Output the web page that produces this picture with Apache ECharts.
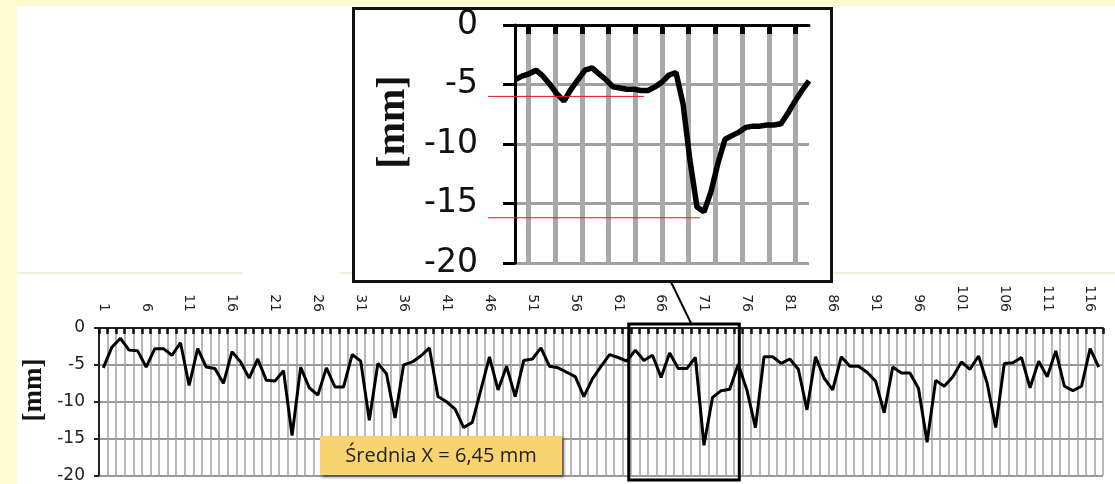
<!DOCTYPE html>
<html>
<head>
<meta charset="utf-8">
<script src="https://cdn.jsdelivr.net/npm/echarts@6/dist/echarts.min.js"></script>
<style>
  html, body { margin: 0; padding: 0; background: #fefbd1; }
  #page { position: relative; width: 1115px; height: 484px; overflow: hidden; }
  #white { position: absolute; left: 17px; top: 6px; width: 1098px; height: 478px; background: #ffffff; }
  .faint { position: absolute; top: 272px; height: 2px; background: #f1efdc; }
  #insetBox { position: absolute; left: 352px; top: 7px; width: 481px; height: 276px; box-sizing: border-box; border: 3px solid #111; background: #ffffff; }
  #c { position: absolute; left: 0; top: 0; width: 1115px; height: 484px; }
</style>
</head>
<body>
<div id="page">
  <div id="white"></div>
  <div class="faint" style="left:17px;width:226px"></div>
  <div class="faint" style="left:340px;width:775px"></div>
  <div id="insetBox"></div>
  <div id="c"></div>
</div>
<script>
// ---- data ----
const categories = Array.from({ length: 117 }, (_, i) => String(i + 1));
const depth = [
  -5.4, -2.6, -1.4, -3.0, -3.1, -5.3, -2.8, -2.8, -3.7, -2.0,
  -7.8, -2.8, -5.3, -5.5, -7.5, -3.2, -4.6, -6.8, -4.2, -7.1,
  -7.2, -5.8, -14.6, -5.3, -8.1, -9.1, -5.4, -8.0, -8.0, -3.6,
  -4.5, -12.5, -4.8, -6.2, -12.2, -5.0, -4.6, -3.8, -2.7, -9.3,
  -10.0, -11.0, -13.5, -12.8, -8.4, -3.9, -8.4, -5.2, -9.3, -4.4,
  -4.2, -2.7, -5.2, -5.4, -6.0, -6.6, -9.3, -6.9, -5.2, -3.6,
  -4.0, -4.5, -3.0, -4.4, -3.7, -6.7, -3.4, -5.5, -5.5, -4.0,
  -15.9, -9.4, -8.5, -8.3, -4.9, -8.4, -13.5, -3.9, -3.9, -4.8,
  -4.2, -5.6, -11.1, -3.9, -6.8, -8.4, -3.9, -5.2, -5.2, -6.0,
  -7.2, -11.5, -5.3, -6.1, -6.1, -8.2, -15.5, -7.1, -7.9, -6.6,
  -4.6, -5.6, -3.8, -7.5, -13.5, -4.8, -4.7, -4.0, -8.1, -4.5,
  -6.6, -3.1, -7.9, -8.5, -7.9, -2.8, -5.3
];
const yMin = -20, yMax = 0, yStep = 5;

// inset (zoomed detail) – its own picture, read separately
const insetSlots = ['', '', '', '', '', '', '', '', '', '', ''];
const insetSamples = Array.from({ length: 43 }, (_, i) => String(i));
const insetDepth = [
  -4.6, -4.3, -4.1, -3.8, -4.3, -5.0, -5.8, -6.4, -5.4, -4.6,
  -3.8, -3.6, -4.1, -4.6, -5.2, -5.3, -5.4, -5.4, -5.5, -5.5,
  -5.2, -4.8, -4.2, -4.0, -6.6, -11.4, -15.3, -15.7, -14.0, -11.6,
  -9.6, -9.3, -9.0, -8.6, -8.5, -8.5, -8.4, -8.4, -8.3, -7.4,
  -6.4, -5.5, -4.7
];
const insetRefLevels = [-6.0, -16.2];
const insetRefEnds = ['18', '26'];
const zoomWindow = ['62', '75'];
const axisUnit = '[mm]';
const meanLabel = 'Średnia X = 6,45 mm';

// ---- chart ----
const chart = echarts.init(document.getElementById('c'), null, { renderer: 'canvas' });
chart.setOption({
  backgroundColor: 'transparent',
  animation: false,
  grid: [
    { left: 99, top: 328, width: 1004, height: 148.7 },
    { left: 515, top: 25, width: 294, height: 238 }
  ],
  xAxis: [
    {
      gridIndex: 0, type: 'category', data: categories, position: 'top', boundaryGap: true,
      axisLine: { lineStyle: { color: '#222', width: 2 } },
      axisTick: { show: true, inside: true, interval: 0, length: 6, lineStyle: { color: '#111', width: 2.5 } },
      axisLabel: { interval: 4, rotate: -90, fontSize: 14, fontFamily: 'DejaVu Sans', color: '#222', margin: 16 },
      splitLine: { show: true, interval: 0, lineStyle: { color: '#a0a0a0', width: 1.5 } }
    },
    {
      gridIndex: 1, type: 'category', data: insetSlots, position: 'top', boundaryGap: true,
      axisLine: { lineStyle: { color: '#000', width: 3 } },
      axisTick: { show: true, inside: true, alignWithLabel: true, length: 9, lineStyle: { color: '#000', width: 5 } },
      axisLabel: { show: false },
      splitLine: { show: true, alignWithLabel: true, lineStyle: { color: '#a8a8a8', width: 5 } }
    },
    { gridIndex: 1, type: 'category', data: insetSamples, boundaryGap: false, show: false }
  ],
  yAxis: [
    {
      gridIndex: 0, type: 'value', min: yMin, max: yMax, interval: yStep,
      axisLine: { show: true, lineStyle: { color: '#222', width: 2 } },
      axisTick: { show: true, length: 5, lineStyle: { color: '#222', width: 2 } },
      axisLabel: { fontSize: 17, fontFamily: 'DejaVu Sans', color: '#222', margin: 14 },
      splitLine: { show: true, lineStyle: { color: '#9a9a9a', width: 2 } }
    },
    {
      gridIndex: 1, type: 'value', min: yMin, max: yMax, interval: yStep,
      axisLine: { show: true, lineStyle: { color: '#000', width: 3 } },
      axisTick: { show: true, length: 12, lineStyle: { color: '#000', width: 3 } },
      axisLabel: { fontSize: 33, fontFamily: 'DejaVu Sans', color: '#111', margin: 37 },
      splitLine: { show: true, lineStyle: { color: '#a0a0a0', width: 3 } }
    }
  ],
  series: [
    {
      type: 'line', xAxisIndex: 0, yAxisIndex: 0, data: depth, symbol: 'none',
      lineStyle: { color: '#000', width: 3 }, z: 5
    },
    {
      type: 'line', xAxisIndex: 2, yAxisIndex: 1, data: insetDepth, symbol: 'none',
      lineStyle: { color: '#000', width: 5.5 }, z: 5
    }
  ]
});

// ---- annotations placed through the chart's own scales ----
const px = c => chart.convertToPixel({ xAxisIndex: 0 }, c);
const py = v => chart.convertToPixel({ yAxisIndex: 0 }, v);
const ipx = c => chart.convertToPixel({ xAxisIndex: 2 }, c);
const ipy = v => chart.convertToPixel({ yAxisIndex: 1 }, v);

const rx1 = px(zoomWindow[0]) + 2, rx2 = px(zoomWindow[1]) + 1;
const ry1 = py(yMax) - 4, ry2 = py(yMin) + 4.5;
const graphics = [
  {
    type: 'rect', z: 100,
    shape: { x: rx1, y: ry1, width: rx2 - rx1, height: ry2 - ry1 },
    style: { fill: 'none', stroke: '#000', lineWidth: 3 }
  },
  {
    type: 'line', z: 100,
    shape: { x1: px('70') - 4, y1: ry1, x2: 671, y2: 282 },
    style: { stroke: '#000', lineWidth: 2 }
  },
  {
    type: 'text', z: 100, x: 34, y: 390, rotation: Math.PI / 2,
    style: { text: axisUnit, font: 'bold 27px "Liberation Serif"', fill: '#111',
      align: 'center', verticalAlign: 'middle', textAlign: 'center', textVerticalAlign: 'middle' }
  },
  {
    type: 'text', z: 100, x: 394, y: 122, rotation: Math.PI / 2,
    style: { text: axisUnit, font: 'bold 40px "Liberation Serif"', fill: '#111',
      align: 'center', verticalAlign: 'middle', textAlign: 'center', textVerticalAlign: 'middle' }
  },
  {
    type: 'rect', z: 100,
    shape: { x: 320, y: 436, width: 242, height: 39 },
    style: { fill: '#f9d36f', shadowBlur: 3, shadowOffsetX: 2, shadowOffsetY: 2, shadowColor: 'rgba(0,0,0,0.55)' }
  },
  {
    type: 'text', z: 101, x: 441, y: 456,
    style: { text: meanLabel, font: '20px "Open Sans"', fill: '#222',
      align: 'center', verticalAlign: 'middle', textAlign: 'center', textVerticalAlign: 'middle' }
  }
];
insetRefLevels.forEach((lv, i) => {
  const y = ipy(lv);
  graphics.push({
    type: 'line', z: 100,
    shape: { x1: ipx('0') - 27, y1: y, x2: ipx(insetRefEnds[i]) + 3, y2: y },
    style: { stroke: '#e01818', lineWidth: 1 }
  });
});
chart.setOption({ graphic: graphics });
</script>
</body>
</html>
